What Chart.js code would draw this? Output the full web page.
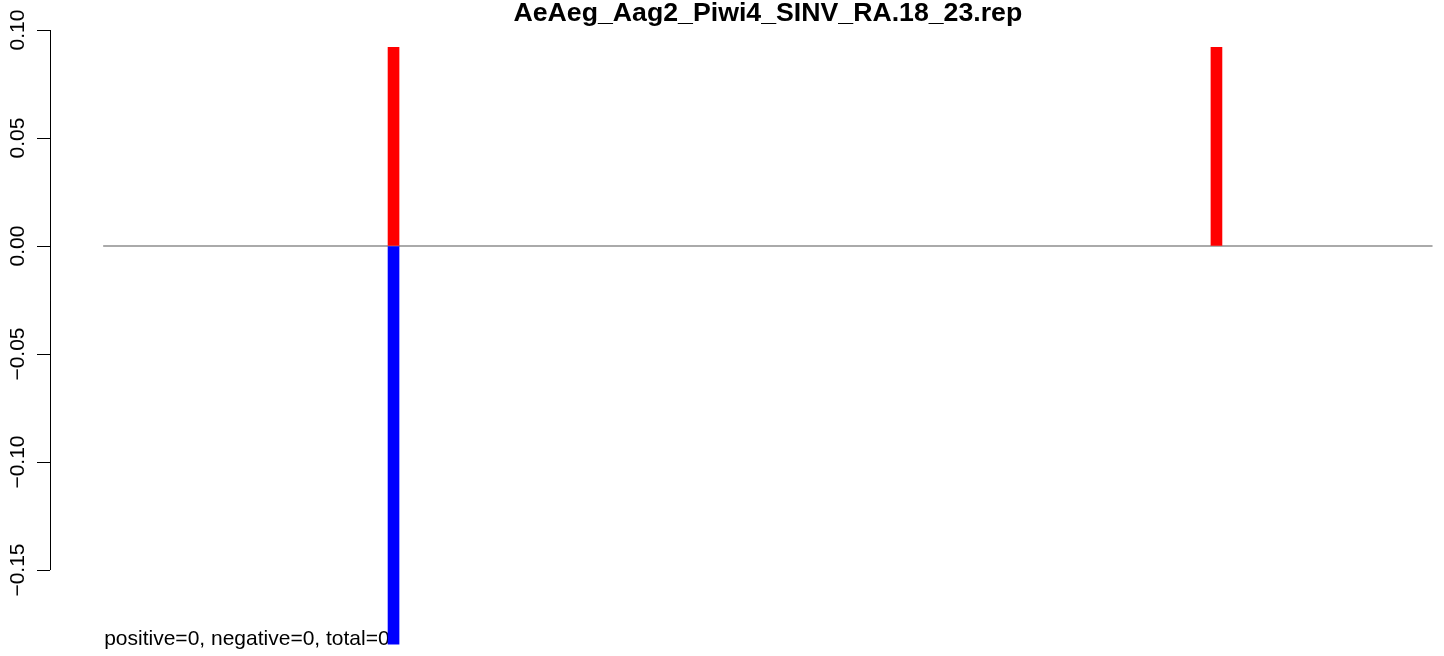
<!DOCTYPE html>
<html>
<head>
<meta charset="utf-8">
<title>AeAeg_Aag2_Piwi4_SINV_RA.18_23.rep</title>
<script src="https://cdn.jsdelivr.net/npm/chart.js@4"></script>
<style>
  html, body { margin: 0; padding: 0; background: #fff; overflow: hidden; }
  #wrap { width: 1444px; height: 656px; }
</style>
</head>
<body>
<div id="wrap"><canvas id="chart" width="1444" height="656"></canvas></div>
<script>
const chartTitle = "AeAeg_Aag2_Piwi4_SINV_RA.18_23.rep";
const positivePositions = [2557, 9801];
const positiveValues = [0.092, 0.092];
const negativePositions = [2557];
const negativeValues = [-0.1843];
const genomeRange = [1, 11703];
const yTicks = [0.10, 0.05, 0.00, -0.05, -0.10, -0.15];
const yTickLabels = ["0.10", "0.05", "0.00", "\u22120.05", "\u22120.10", "\u22120.15"];
const summaryText = "positive=0, negative=0, total=0";

const FONT = '"Liberation Sans", Arial, Helvetica, sans-serif';

// R-style extras: short axis line, rotated tick labels, title, summary text
const rPlot = {
  id: "rPlot",
  beforeDatasetsDraw(chart) {
    const { ctx, chartArea, scales: { x, y } } = chart;
    ctx.save();
    ctx.strokeStyle = "#000";
    ctx.lineWidth = 1;
    const ax = chartArea.left + 0.5;
    ctx.beginPath();
    ctx.moveTo(ax, y.getPixelForValue(yTicks[0]));
    ctx.lineTo(ax, y.getPixelForValue(yTicks[yTicks.length - 1]));
    ctx.stroke();

    ctx.fillStyle = "#000";
    ctx.font = "21px " + FONT;
    ctx.textAlign = "center";
    ctx.textBaseline = "alphabetic";
    yTicks.forEach((v, i) => {
      ctx.save();
      ctx.translate(24, y.getPixelForValue(v));
      ctx.rotate(-Math.PI / 2);
      ctx.fillText(yTickLabels[i], 0, 0);
      ctx.restore();
    });

    ctx.textAlign = "left";
    ctx.fillText(summaryText, x.getPixelForValue(genomeRange[0]) + 1, 645);
    ctx.restore();
  },
  afterDraw(chart) {
    const { ctx, scales: { x } } = chart;
    ctx.save();
    ctx.fillStyle = "#000";
    ctx.font = "bold 26.7px " + FONT;
    ctx.textAlign = "center";
    ctx.textBaseline = "alphabetic";
    // centre of the original plot region (4% padded genome range)
    ctx.fillText(chartTitle, x.getPixelForValue(5852), 21);
    ctx.restore();
  }
};

new Chart(document.getElementById("chart"), {
  type: "bar",
  data: {
    datasets: [
      {
        label: "positive",
        data: positivePositions.map((p, i) => ({ x: p, y: positiveValues[i] })),
        backgroundColor: "#ff0000",
        barThickness: 11,
        grouped: false,
        order: 0
      },
      {
        label: "negative",
        data: negativePositions.map((p, i) => ({ x: p, y: negativeValues[i] })),
        backgroundColor: "#0000ff",
        barThickness: 11,
        grouped: false,
        order: 0
      },
      {
        type: "line",
        label: "zero",
        data: genomeRange.map(p => ({ x: p, y: 0 })),
        borderColor: "#aaaaaa",
        borderWidth: 2,
        pointRadius: 0,
        order: 1
      }
    ]
  },
  options: {
    responsive: false,
    animation: false,
    layout: { padding: { top: 30, bottom: 11, left: 0, right: 0 } },
    plugins: {
      legend: { display: false },
      title: { display: false },
      tooltip: { enabled: false }
    },
    scales: {
      x: { type: "linear", min: -467, max: 11804, offset: false, display: false },
      y: {
        min: -0.1847,
        max: 0.10,
        afterFit: s => { s.width = 50; },
        afterBuildTicks: s => { s.ticks = yTicks.map(v => ({ value: v })); },
        border: { display: false },
        grid: { drawOnChartArea: false, drawTicks: true, tickLength: 13, color: "#000", lineWidth: 1 },
        ticks: { display: false }
      }
    }
  },
  plugins: [rPlot]
});
</script>
</body>
</html>
